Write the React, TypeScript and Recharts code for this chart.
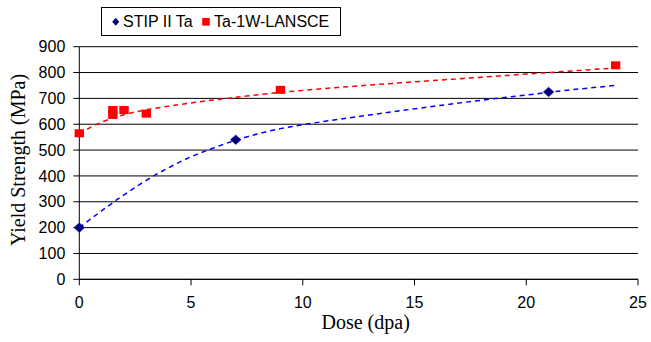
import React from "react";
import {
  ComposedChart,
  Scatter,
  Line,
  XAxis,
  YAxis,
  CartesianGrid,
  Legend,
} from "recharts";

// Measured points
const stipPoints = [
  { x: 0, y: 200 },
  { x: 7, y: 540 },
  { x: 21, y: 725 },
];
const lanscePoints = [
  { x: 0, y: 565 },
  { x: 1.5, y: 636 },
  { x: 1.5, y: 655 },
  { x: 2, y: 655 },
  { x: 3, y: 641 },
  { x: 9, y: 733 },
  { x: 24, y: 828 },
];

// Trend lines
const stipTrend = [
  { x: 0, y: 200 },
  { x: 1, y: 265 },
  { x: 2, y: 327 },
  { x: 3, y: 383 },
  { x: 4, y: 432 },
  { x: 5, y: 474 },
  { x: 6, y: 508 },
  { x: 7, y: 538 },
  { x: 8, y: 563 },
  { x: 9, y: 583 },
  { x: 10, y: 598 },
  { x: 12, y: 624 },
  { x: 14, y: 648 },
  { x: 16, y: 671 },
  { x: 18, y: 693 },
  { x: 20, y: 713 },
  { x: 22, y: 733 },
  { x: 24, y: 750 },
];
const lansceTrend = [
  { x: 0, y: 562 },
  { x: 0.5, y: 588 },
  { x: 1, y: 608 },
  { x: 1.5, y: 624 },
  { x: 2, y: 637 },
  { x: 3, y: 656 },
  { x: 4, y: 670 },
  { x: 5, y: 682 },
  { x: 6, y: 694 },
  { x: 7, y: 704 },
  { x: 8, y: 714 },
  { x: 10, y: 731 },
  { x: 12, y: 745 },
  { x: 14, y: 758 },
  { x: 16, y: 770 },
  { x: 18, y: 782 },
  { x: 20, y: 794 },
  { x: 22, y: 806 },
  { x: 24, y: 818 },
];

const xTicks = [0, 5, 10, 15, 20, 25];
const yTicks = [0, 100, 200, 300, 400, 500, 600, 700, 800, 900];

const seriesNames = ["STIP II Ta", "Ta-1W-LANSCE"];
const xTitle = "Dose (dpa)";
const yTitle = "Yield Strength (MPa)";

const NAVY = "#000080";
const RED = "#ff0000";
const BLUE = "#0000ff";
const SANS = '"Liberation Sans", Arial, sans-serif';
const SERIF = '"Liberation Serif", "Times New Roman", serif';

const Diamond = (props: any) => {
  const { cx, cy } = props;
  if (cx == null || cy == null) return null;
  const w = 5.3;
  const h = 4.8;
  return (
    <polygon
      points={`${cx},${cy - h} ${cx + w},${cy} ${cx},${cy + h} ${cx - w},${cy}`}
      fill={NAVY}
      stroke={NAVY}
      strokeWidth={0.5}
    />
  );
};

const Square = (props: any) => {
  const { cx, cy } = props;
  if (cx == null || cy == null) return null;
  return <rect x={cx - 4.7} y={cy - 4} width={9.4} height={8} fill={RED} />;
};

const LegendBox = () => (
  <svg width={240} height={29} style={{ display: "block" }}>
    <rect x={0.5} y={0.5} width={239} height={28} fill="#fff" stroke="#000" strokeWidth={1} />
    <polygon points="14.7,10.7 18.2,14.7 14.7,18.7 11.2,14.7" fill={NAVY} />
    <text x={22} y={19.5} fontFamily={SANS} fontSize={16} fill="#000">
      {seriesNames[0]}
    </text>
    <rect x={101.2} y={11} width={7.6} height={7.6} fill={RED} />
    <text x={113} y={19.5} fontFamily={SANS} fontSize={16} fill="#000">
      {seriesNames[1]}
    </text>
  </svg>
);

const YTitle = (props: any) => {
  const vb = props.viewBox || {};
  const x = (vb.x ?? 0) + 25;
  const y = (vb.y ?? 0) + (vb.height ?? 0) / 2 - 3;
  return (
    <text
      x={x}
      y={y}
      transform={`rotate(-90, ${x}, ${y})`}
      textAnchor="middle"
      fontFamily={SERIF}
      fontSize={20}
      fill="#000"
    >
      {yTitle}
    </text>
  );
};

const XTitle = (props: any) => {
  const vb = props.viewBox || {};
  const x = (vb.x ?? 0) + (vb.width ?? 0) / 2 + 7;
  const y = (vb.y ?? 0) + 50;
  return (
    <text x={x} y={y} textAnchor="middle" fontFamily={SERIF} fontSize={20} fill="#000">
      {xTitle}
    </text>
  );
};

export default function App() {
  return (
    <div
      style={{
        position: "absolute",
        left: 0,
        top: 0,
        width: 651,
        height: 342,
        background: "#fff",
      }}
    >
      <ComposedChart
        width={651}
        height={342}
        margin={{ top: 46.7, right: 13, bottom: 32.7, left: 0 }}
      >
        <CartesianGrid vertical={false} horizontal={true} stroke="#000" strokeWidth={1} />
        <XAxis
          type="number"
          dataKey="x"
          domain={[0, 25]}
          ticks={xTicks}
          interval={0}
          height={30}
          tickSize={6}
          tickMargin={11}
          axisLine={{ stroke: "#000" }}
          tickLine={{ stroke: "#000" }}
          tick={{ fill: "#000", fontSize: 16, fontFamily: SANS }}
          label={<XTitle />}
        />
        <YAxis
          type="number"
          dataKey="y"
          domain={[0, 900]}
          ticks={yTicks}
          interval={0}
          width={79.3}
          tickSize={6}
          tickMargin={8}
          axisLine={{ stroke: "#000" }}
          tickLine={{ stroke: "#000" }}
          tick={{ fill: "#000", fontSize: 16, fontFamily: SANS }}
          label={<YTitle />}
        />
        <Legend
          layout="vertical"
          align="center"
          verticalAlign="middle"
          wrapperStyle={{ position: "absolute", left: 101, top: 7, width: 240, height: 29 }}
          content={() => <LegendBox />}
        />
        <Scatter
          name={seriesNames[0]}
          data={stipPoints}
          fill={NAVY}
          shape={<Diamond />}
          isAnimationActive={false}
        />
        <Scatter
          name={seriesNames[1]}
          data={lanscePoints}
          fill={RED}
          shape={<Square />}
          isAnimationActive={false}
        />
        <Line
          data={stipTrend}
          dataKey="y"
          type="monotone"
          stroke={BLUE}
          strokeWidth={1.5}
          strokeDasharray="5 4"
          dot={false}
          activeDot={false}
          legendType="none"
          isAnimationActive={false}
        />
        <Line
          data={lansceTrend}
          dataKey="y"
          type="monotone"
          stroke={RED}
          strokeWidth={1.5}
          strokeDasharray="5 4"
          dot={false}
          activeDot={false}
          legendType="none"
          isAnimationActive={false}
        />
      </ComposedChart>
    </div>
  );
}
